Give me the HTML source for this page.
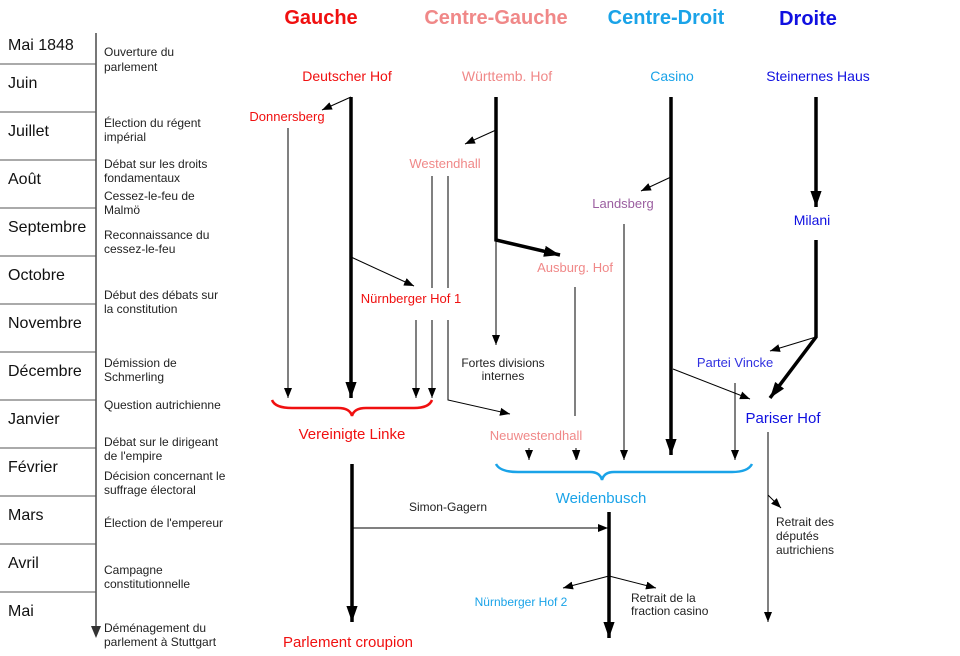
<!DOCTYPE html>
<html><head><meta charset="utf-8"><style>
html,body{margin:0;padding:0;background:#fff;width:960px;height:656px;overflow:hidden}
svg{display:block;font-family:"Liberation Sans",sans-serif}
</style></head><body>
<svg width="960" height="656" viewBox="0 0 960 656" xmlns="http://www.w3.org/2000/svg">
<defs>
<marker id="a" viewBox="0 0 10 10" refX="10" refY="5" markerWidth="10" markerHeight="10" markerUnits="userSpaceOnUse" orient="auto"><path d="M0,1 L10,5 L0,9z" fill="#000"/></marker>
<marker id="b" viewBox="0 0 10 10" refX="10" refY="5" markerWidth="16" markerHeight="16" markerUnits="userSpaceOnUse" orient="auto"><path d="M0,1.5 L10,5 L0,8.5z" fill="#000"/></marker>
</defs>
<!-- timeline -->
<g stroke="#555" stroke-width="1">
<line x1="96" y1="33" x2="96" y2="630" stroke="#777" stroke-width="2"/>
<line x1="0" y1="64" x2="96" y2="64"/><line x1="0" y1="112" x2="96" y2="112"/><line x1="0" y1="160" x2="96" y2="160"/><line x1="0" y1="208" x2="96" y2="208"/><line x1="0" y1="256" x2="96" y2="256"/><line x1="0" y1="304" x2="96" y2="304"/><line x1="0" y1="352" x2="96" y2="352"/><line x1="0" y1="400" x2="96" y2="400"/><line x1="0" y1="448" x2="96" y2="448"/><line x1="0" y1="496" x2="96" y2="496"/><line x1="0" y1="544" x2="96" y2="544"/><line x1="0" y1="592" x2="96" y2="592"/>
</g>
<path d="M91,626 L101,626 L96,638z" fill="#333"/>
<g font-size="16" fill="#111">
<text x="8" y="50">Mai 1848</text><text x="8" y="88">Juin</text><text x="8" y="136">Juillet</text><text x="8" y="184">Août</text><text x="8" y="232">Septembre</text><text x="8" y="280">Octobre</text><text x="8" y="328">Novembre</text><text x="8" y="376">Décembre</text><text x="8" y="424">Janvier</text><text x="8" y="472">Février</text><text x="8" y="520">Mars</text><text x="8" y="568">Avril</text><text x="8" y="616">Mai</text>
</g>
<g font-size="12" fill="#222">
<text x="104" y="56">Ouverture du</text><text x="104" y="71">parlement</text>
<text x="104" y="127">Élection du régent</text><text x="104" y="141">impérial</text>
<text x="104" y="168">Débat sur les droits</text><text x="104" y="182">fondamentaux</text>
<text x="104" y="200">Cessez-le-feu de</text><text x="104" y="214">Malmö</text>
<text x="104" y="239">Reconnaissance du</text><text x="104" y="253">cessez-le-feu</text>
<text x="104" y="299">Début des débats sur</text><text x="104" y="313">la constitution</text>
<text x="104" y="367">Démission de</text><text x="104" y="381">Schmerling</text>
<text x="104" y="409">Question autrichienne</text>
<text x="104" y="446">Débat sur le dirigeant</text><text x="104" y="460">de l'empire</text>
<text x="104" y="480">Décision concernant le</text><text x="104" y="494">suffrage électoral</text>
<text x="104" y="527">Élection de l'empereur</text>
<text x="104" y="574">Campagne</text><text x="104" y="588">constitutionnelle</text>
<text x="104" y="632">Déménagement du</text><text x="104" y="646">parlement à Stuttgart</text>
</g>
<!-- headers -->
<g font-size="20" font-weight="bold" text-anchor="middle">
<text x="321" y="24" fill="#f01010">Gauche</text>
<text x="496" y="24" fill="#f08888">Centre-Gauche</text>
<text x="666" y="24" fill="#1aa3e8">Centre-Droit</text>
<text x="808" y="25" fill="#1010e0">Droite</text>
</g>
<g font-size="14" text-anchor="middle">
<text x="347" y="81" fill="#f01010">Deutscher Hof</text>
<text x="507" y="81" fill="#f08888">Württemb. Hof</text>
<text x="672" y="81" fill="#1aa3e8">Casino</text>
<text x="818" y="81" fill="#1010e0">Steinernes Haus</text>
</g>
<g font-size="13" text-anchor="middle">
<text x="287" y="121" fill="#f01010">Donnersberg</text>
<text x="445" y="168" fill="#f08888">Westendhall</text>
<text x="623" y="208" fill="#9b5fa0">Landsberg</text>
<text x="812" y="225" fill="#1010e0" font-size="14">Milani</text>
<text x="575" y="272" fill="#f08888">Ausburg. Hof</text>
<text x="411" y="303" fill="#f01010">Nürnberger Hof 1</text>
<text x="735" y="367" fill="#3030e0">Partei Vincke</text>
<text x="503" y="367" fill="#222" font-size="12">Fortes divisions</text>
<text x="503" y="380" fill="#222" font-size="12">internes</text>
<text x="783" y="423" fill="#1010e0" font-size="15">Pariser Hof</text>
<text x="352" y="439" fill="#f01010" font-size="15">Vereinigte Linke</text>
<text x="536" y="440" fill="#f08888">Neuwestendhall</text>
<text x="601" y="503" fill="#1aa3e8" font-size="15">Weidenbusch</text>
<text x="448" y="511" fill="#222" font-size="12">Simon-Gagern</text>
<text x="521" y="606" fill="#1aa3e8" font-size="12">Nürnberger Hof 2</text>
<text x="348" y="647" fill="#f01010" font-size="15">Parlement croupion</text>
</g>
<g font-size="12" fill="#222">
<text x="631" y="602">Retrait de la</text><text x="631" y="615">fraction casino</text>
<text x="776" y="526">Retrait des</text><text x="776" y="540">députés</text><text x="776" y="554">autrichiens</text>
</g>
<!-- thick lines -->
<g stroke="#000" stroke-width="3.5" fill="none">
<line x1="351" y1="97" x2="351" y2="398" marker-end="url(#b)"/>
<polyline points="496,97 496,240 560,255" marker-end="url(#b)"/>
<line x1="671" y1="97" x2="671" y2="455" marker-end="url(#b)"/>
<line x1="816" y1="97" x2="816" y2="207" marker-end="url(#b)"/>
<polyline points="816,240 816,337 770,398" marker-end="url(#b)"/>
<line x1="352" y1="464" x2="352" y2="622" marker-end="url(#b)"/>
<line x1="609" y1="512" x2="609" y2="638" marker-end="url(#b)"/>
</g>
<!-- thin lines -->
<g stroke="#000" stroke-width="1" fill="none">
<line x1="351" y1="97" x2="322" y2="110" marker-end="url(#a)"/>
<line x1="288" y1="128" x2="288" y2="398" marker-end="url(#a)"/>
<line x1="351" y1="257" x2="414" y2="286" marker-end="url(#a)"/>
<line x1="416" y1="320" x2="416" y2="398" marker-end="url(#a)"/>
<line x1="432" y1="176" x2="432" y2="288"/>
<line x1="432" y1="320" x2="432" y2="398" marker-end="url(#a)"/>
<line x1="448" y1="176" x2="448" y2="288"/>
<polyline points="448,320 448,400 510,414" marker-end="url(#a)"/>
<line x1="496" y1="130" x2="465" y2="144" marker-end="url(#a)"/>
<line x1="496" y1="240" x2="496" y2="345" marker-end="url(#a)"/>
<line x1="575" y1="287" x2="575" y2="416"/>
<line x1="671" y1="177" x2="641" y2="191" marker-end="url(#a)"/>
<line x1="624" y1="224" x2="624" y2="460" marker-end="url(#a)"/>
<line x1="673" y1="369" x2="750" y2="399" marker-end="url(#a)"/>
<line x1="816" y1="337" x2="770" y2="351" marker-end="url(#a)"/>
<line x1="735" y1="383" x2="735" y2="460" marker-end="url(#a)"/>
<line x1="529" y1="448" x2="529" y2="460" marker-end="url(#a)"/>
<line x1="575" y1="430" x2="577" y2="460" marker-end="url(#a)" stroke="none"/>
<line x1="576" y1="448" x2="576" y2="460" marker-end="url(#a)"/>
<line x1="768" y1="432" x2="768" y2="622" marker-end="url(#a)"/>
<line x1="768" y1="495" x2="781" y2="508" marker-end="url(#a)"/>
<line x1="352" y1="528" x2="608" y2="528" marker-end="url(#a)"/>
<line x1="609" y1="576" x2="563" y2="588" marker-end="url(#a)"/>
<line x1="609" y1="576" x2="656" y2="588" marker-end="url(#a)"/>
</g>
<!-- braces -->
<path d="M272,400 Q275,408 292,408 L338,408 Q350,408 352,416 Q354,408 366,408 L414,408 Q429,408 432,400" stroke="#f01010" stroke-width="2.5" fill="none"/>
<path d="M496,464 Q500,472 518,472 L590,472 Q600,472 602,480 Q604,472 614,472 L732,472 Q748,472 752,464" stroke="#1aa3e8" stroke-width="2.5" fill="none"/>
</svg>
</body></html>
